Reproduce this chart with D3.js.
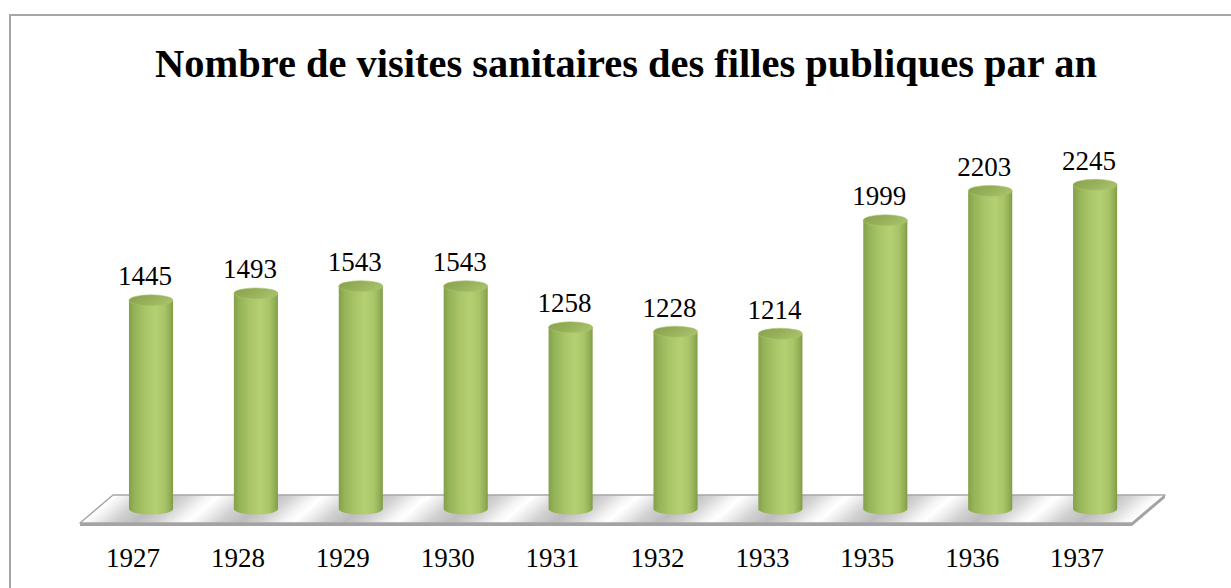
<!DOCTYPE html>
<html>
<head>
<meta charset="utf-8">
<script src="https://cdn.jsdelivr.net/npm/d3@7"></script>
<style>
  html, body { margin: 0; padding: 0; background: #ffffff; }
  svg { display: block; }
</style>
</head>
<body>
<svg id="chart" width="1231" height="588"></svg>
<script>
// Categories and values
const years = ["1927", "1928", "1929", "1930", "1931", "1932", "1933", "1935", "1936", "1937"];
const visits = [1445, 1493, 1543, 1543, 1258, 1228, 1214, 1999, 2203, 2245];
const titleText = "Nombre de visites sanitaires des filles publiques par an";

const W = 1231, H = 588;
const svg = d3.select("#chart");
const defs = svg.append("defs");

// Frame around the chart area
svg.append("path")
  .attr("d", `M10,${H} L10,15 L${W},15`)
  .attr("fill", "none")
  .attr("stroke", "#a6a6a6")
  .attr("stroke-width", 2);

// Scales
const x = d3.scaleBand()
  .domain(years)
  .range([98.55, 1147.55])
  .paddingInner(0.58)
  .paddingOuter(0.29);
const step = x.step();
const cx = d => x(d) + x.bandwidth() / 2;

const y = d3.scaleLinear().domain([0, 2500]).range([509, 148]);

// Floor geometry (perspective parallelogram)
const floorBackY = 495, floorFrontY = 523, floorDepthX = 33, floorThick = 3;
const floorLeftFront = 80, floorRightFront = 1132;
const slope = floorDepthX / (floorFrontY - floorBackY);

// Floor fill: repeating diagonal reflections between cylinders
const fg = defs.append("linearGradient")
  .attr("id", "floorGrad")
  .attr("gradientUnits", "userSpaceOnUse")
  .attr("spreadMethod", "repeat")
  .attr("x1", cx(years[0]) + slope * 509).attr("y1", 0)
  .attr("x2", cx(years[0]) + slope * 509 + step).attr("y2", 0)
  .attr("gradientTransform", `skewX(${-Math.atan(slope) * 180 / Math.PI})`);
[[0, "#bdbdbd"], [0.2, "#d3d3d3"], [0.4, "#f5f5f5"], [0.5, "#ffffff"], [0.62, "#eeeeee"], [0.8, "#d0d0d0"], [1, "#bdbdbd"]]
  .forEach(([o, c]) => fg.append("stop").attr("offset", o).attr("stop-color", c));

const floor = svg.append("g");
floor.append("path")
  .attr("d", `M${floorLeftFront},${floorFrontY} L${floorLeftFront + floorDepthX},${floorBackY} L${floorRightFront + floorDepthX},${floorBackY} L${floorRightFront},${floorFrontY} Z`)
  .attr("fill", "url(#floorGrad)")
  .attr("stroke", "#a6a6a6")
  .attr("stroke-width", 1.5)
  .attr("stroke-linejoin", "round");
// Front and side faces of the floor slab
floor.append("path")
  .attr("d", `M${floorLeftFront},${floorFrontY} L${floorRightFront},${floorFrontY} L${floorRightFront + floorDepthX},${floorBackY} L${floorRightFront + floorDepthX},${floorBackY + floorThick} L${floorRightFront},${floorFrontY + floorThick} L${floorLeftFront},${floorFrontY + floorThick} Z`)
  .attr("fill", "#a3a3a3");

// Cylinder gradients
const bodyGrad = defs.append("linearGradient").attr("id", "bodyGrad")
  .attr("x1", 0).attr("x2", 1).attr("y1", 0).attr("y2", 0);
[[0, "#84a048"], [0.12, "#94b257"], [0.35, "#a7c466"], [0.6, "#b5d073"], [0.8, "#a9c568"], [0.93, "#93af56"], [1, "#7e9a43"]]
  .forEach(([o, c]) => bodyGrad.append("stop").attr("offset", o).attr("stop-color", c));
const topGrad = defs.append("linearGradient").attr("id", "topGrad")
  .attr("x1", 0).attr("x2", 1).attr("y1", 0).attr("y2", 0.4);
[[0, "#869f4d"], [0.6, "#98b25b"], [1, "#a6bf68"]]
  .forEach(([o, c]) => topGrad.append("stop").attr("offset", o).attr("stop-color", c));

const rx = x.bandwidth() / 2, ry = 5.5;
const baseY = y(0);

const bars = svg.append("g").selectAll("g")
  .data(years.map((yr, i) => ({ yr, v: visits[i] })))
  .join("g");

bars.append("path")
  .attr("d", d => {
    const c = cx(d.yr), t = y(d.v);
    return `M${c - rx},${t} L${c - rx},${baseY} A${rx},${ry} 0 0 0 ${c + rx},${baseY} L${c + rx},${t} Z`;
  })
  .attr("fill", "url(#bodyGrad)");

bars.append("ellipse")
  .attr("cx", d => cx(d.yr))
  .attr("cy", d => y(d.v))
  .attr("rx", rx)
  .attr("ry", ry)
  .attr("fill", "url(#topGrad)")
  .attr("stroke", "#a9c46a")
  .attr("stroke-width", 0.6);

// Value labels
const labelFont = "'Liberation Serif', 'DejaVu Serif', serif";
bars.append("text")
  .attr("x", d => cx(d.yr) - 6)
  .attr("y", d => y(d.v) - 15)
  .attr("text-anchor", "middle")
  .attr("font-family", labelFont)
  .attr("font-size", 27)
  .attr("fill", "#000")
  .text(d => d.v);

// Category axis along the front edge of the floor
const xAxis = d3.axisBottom(x).tickSize(0).tickPadding(0);
const axisG = svg.append("g")
  .attr("transform", `translate(-18, 567)`)
  .call(xAxis);
axisG.select(".domain").remove();
axisG.selectAll("text")
  .attr("dy", 0)
  .attr("font-family", labelFont)
  .attr("font-size", 27)
  .attr("fill", "#000");

// Title, sized to its span
const title = svg.append("text")
  .attr("x", 626)
  .attr("y", 77)
  .attr("text-anchor", "middle")
  .attr("font-family", labelFont)
  .attr("font-weight", "bold")
  .attr("font-size", 36)
  .attr("fill", "#000")
  .text(titleText);
const tw = title.node().getComputedTextLength();
title.attr("font-size", 36 * 942 / tw);
</script>
</body>
</html>
